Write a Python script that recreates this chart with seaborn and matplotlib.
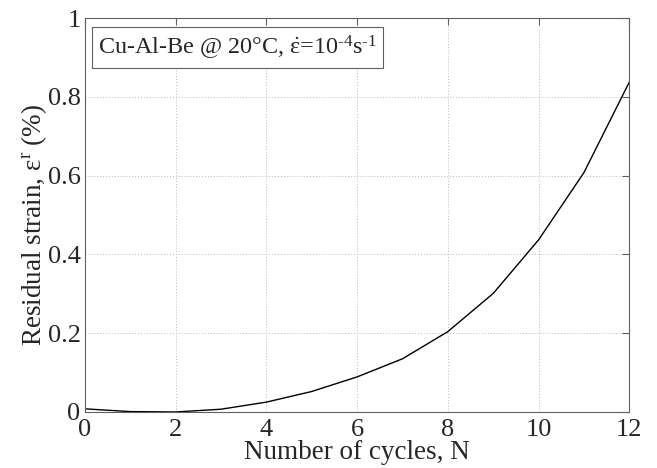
import matplotlib
matplotlib.use("Agg")
import matplotlib.pyplot as plt
import seaborn as sns
import pandas as pd

# Residual strain after each loading cycle
cycles = [0, 1, 2, 3, 4, 5, 6, 7, 8, 9, 10, 11, 12]
residual_strain = [0.008, 0.001, 0.0, 0.007, 0.025, 0.052, 0.089, 0.135,
                   0.204, 0.301, 0.437, 0.608, 0.838]
x_ticks = [0, 2, 4, 6, 8, 10, 12]
y_ticks = [0, 0.2, 0.4, 0.6, 0.8, 1]
y_tick_labels = ["0", "0.2", "0.4", "0.6", "0.8", "1"]

sns.set_style("white")
plt.rcParams["font.family"] = ["Liberation Serif", "DejaVu Serif"]
plt.rcParams["mathtext.fontset"] = "custom"
plt.rcParams["mathtext.rm"] = "Liberation Serif"
plt.rcParams["mathtext.it"] = "Liberation Serif"

df = pd.DataFrame({"N": cycles, "strain": residual_strain})

fig = plt.figure(figsize=(6.57, 4.68), dpi=100)
ax = fig.add_axes([0.129, 0.1197, 0.829, 0.8418])

sns.lineplot(data=df, x="N", y="strain", color="black", linewidth=1.0, ax=ax)

ax.set_xlim(0, 12)
ax.set_ylim(0, 1)
ax.set_xticks(x_ticks)
ax.set_yticks(y_ticks)
ax.set_yticklabels(y_tick_labels)
ax.grid(True, linestyle=(0, (1, 2)), color="#b8b8b8", linewidth=0.7)
ax.set_axisbelow(True)

for s in ax.spines.values():
    s.set_color("#606060")
    s.set_linewidth(0.8)
ax.tick_params(direction="in", length=5, width=0.8, color="#606060",
               top=True, right=True, labelsize=19)
ax.tick_params(axis="x", pad=5)
ax.tick_params(axis="y", pad=3)

ax.set_xlabel("Number of cycles, N", fontsize=19.5, labelpad=-1)
ax.set_ylabel(r"Residual strain, ε$^{\mathrm{r}}$ (%)", fontsize=19.5)
ax.yaxis.set_label_coords(-0.066, 0.475)

ax.text(0.024, 0.925,
        r"Cu-Al-Be @ 20°C, $\dot{\mathrm{ε}}$=10$^{\text{-4}}$s$^{\text{-1}}$",
        transform=ax.transAxes, fontsize=17.4, va="center", ha="left",
        bbox=dict(boxstyle="square,pad=0.25", facecolor="white",
                  edgecolor="#606060", linewidth=0.8))

fig.savefig("out.png", dpi=100)
